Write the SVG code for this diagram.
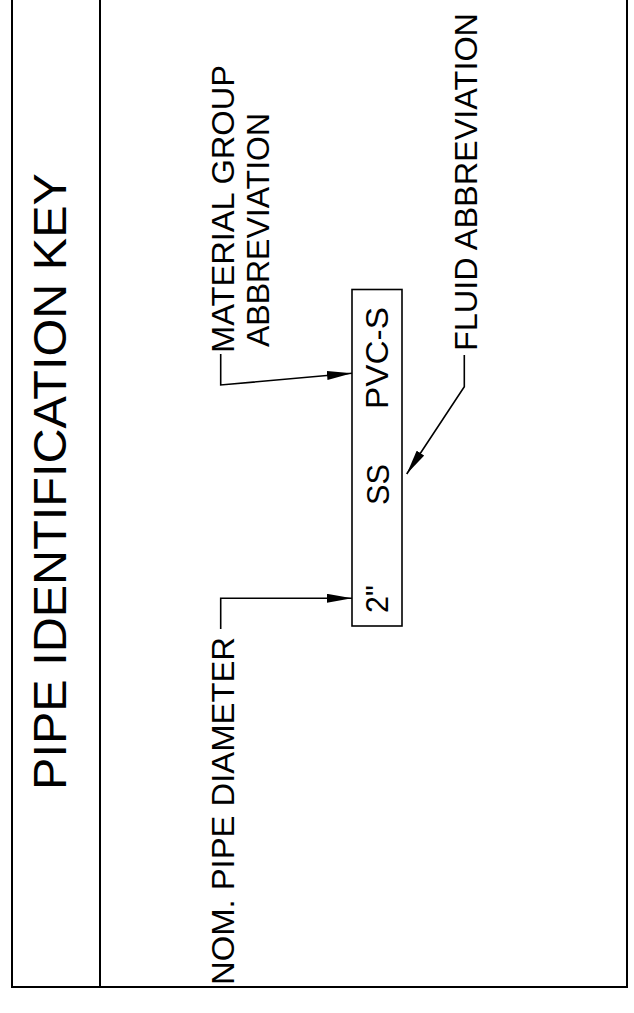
<svg xmlns="http://www.w3.org/2000/svg" width="634" height="1013" viewBox="0 0 634 1013">
<defs>
<style>
.frame{fill:none;stroke:#000;stroke-width:2}
.ln{fill:none;stroke:#000;stroke-width:1.6}
.t{font-family:"Liberation Sans",Arial,sans-serif;fill:#000;font-size:30.5px}
.title{font-family:"Liberation Sans",Arial,sans-serif;fill:#000;font-size:46.5px}
</style>
<marker id="arr" markerUnits="userSpaceOnUse" markerWidth="26" markerHeight="10" refX="25" refY="4.5" orient="auto">
<path d="M0,0 L25,4.5 L0,9 Z" fill="#000"/>
</marker>
</defs>
<rect width="634" height="1013" fill="#fff"/>
<g id="frame">
<polyline class="frame" points="12,-5 12,987 627,987 627,-5"/>
<line class="frame" x1="100" y1="-5" x2="100" y2="987"/>
</g>
<g id="title">
<text class="title" transform="translate(66,790) rotate(-90)" textLength="617" lengthAdjust="spacingAndGlyphs">PIPE IDENTIFICATION KEY</text>
</g>
<g id="pipe-label">
<rect class="ln" x="352" y="289.5" width="50" height="336.5"/>
<text class="t" transform="translate(388,409) rotate(-90)" textLength="102" lengthAdjust="spacingAndGlyphs">PVC-S</text>
<text class="t" transform="translate(389,505) rotate(-90)" textLength="41" lengthAdjust="spacingAndGlyphs">SS</text>
<text class="t" transform="translate(388,613) rotate(-90)">2"</text>
</g>
<g id="nom-diameter">
<text class="t" transform="translate(233.5,985) rotate(-90)" textLength="348" lengthAdjust="spacingAndGlyphs">NOM. PIPE DIAMETER</text>
</g>
<g id="material-group">
<text class="t" transform="translate(233.5,353) rotate(-90)" textLength="288" lengthAdjust="spacingAndGlyphs">MATERIAL GROUP</text>
<text class="t" transform="translate(269,347) rotate(-90)" textLength="234" lengthAdjust="spacingAndGlyphs">ABBREVIATION</text>
</g>
<g id="fluid">
<text class="t" transform="translate(477,351) rotate(-90)" textLength="338" lengthAdjust="spacingAndGlyphs">FLUID ABBREVIATION</text>
</g>
<g id="connectors">
<polyline class="ln" points="220.7,629 220.7,598.3 352,598.3" marker-end="url(#arr)"/>
<polyline class="ln" points="220.7,354 220.7,385 352,373.3" marker-end="url(#arr)"/>
<polyline class="ln" points="464.3,355 464.3,386.7 406.7,474" marker-end="url(#arr)"/>
</g>
</svg>
